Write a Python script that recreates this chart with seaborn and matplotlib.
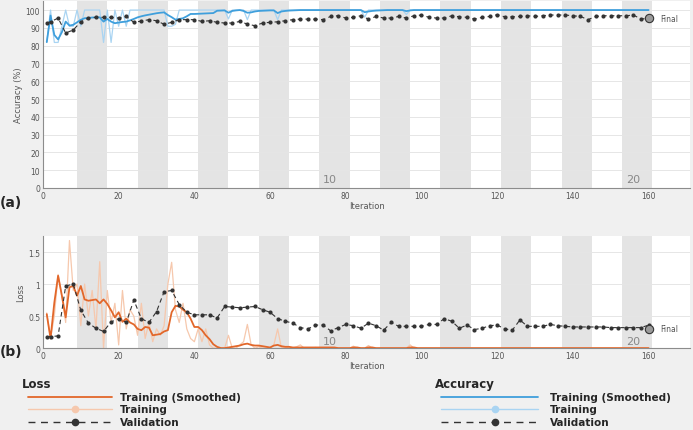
import matplotlib
matplotlib.use("Agg")
import matplotlib.pyplot as plt
from matplotlib.lines import Line2D
import seaborn as sns

# --- data (MATLAB training progress) ---
iterations = list(range(1, 161))

train_acc = [
    81.8, 100, 81.8, 81.8, 90.9, 100, 90.9, 90.9, 100, 90.9,
    100, 100, 100, 100, 100, 81.8, 100, 81.8, 100, 90.9,
    100, 90.9, 100, 100, 100, 100, 100, 100, 100, 100,
    100, 100, 90.9, 90.9, 92.0, 100, 100, 100, 100, 100,
    100, 100, 100, 100, 100, 100, 100, 100, 95.0, 100,
    100, 100, 100, 94.6, 100, 100, 100, 100, 100, 100,
    100, 94.6, 100, 100, 100, 100, 100, 100, 100, 100,
    100, 100, 100, 100, 100, 100, 100, 100, 100, 100,
    100, 100, 100, 100, 96.0, 100, 100, 100, 100, 100,
    100, 100, 100, 100, 100, 97.5, 100, 100, 100, 100,
    100, 100, 100, 100, 100, 100, 100, 100, 100, 100,
    100, 100, 100, 100, 100, 100, 100, 100, 100, 100,
    100, 100, 100, 100, 100, 100, 100, 100, 100, 100,
    100, 100, 100, 100, 100, 100, 100, 100, 100, 100,
    100, 100, 100, 100, 100, 100, 100, 100, 100, 100,
    100, 100, 100, 100, 100, 100, 100, 100, 100, 100,
]

train_acc_smooth = [
    82.0, 96.9, 86.0, 83.5, 87.6, 93.5, 91.3, 91.7, 93.1, 94.5,
    95.4, 95.6, 95.8, 95.9, 95.9, 93.5, 95.0, 93.5, 92.6, 93.0,
    93.3, 93.5, 94.2, 95.0, 95.9, 96.5, 97.0, 97.4, 97.8, 98.2,
    98.5, 98.7, 97.2, 96.0, 94.6, 95.0, 95.4, 96.5, 97.8, 97.8,
    97.9, 98.0, 98.1, 98.2, 98.3, 99.6, 99.7, 99.8, 98.5, 99.5,
    99.8, 100, 99.5, 98.5, 98.7, 99.2, 99.5, 99.6, 99.7, 99.8,
    99.8, 98.3, 99.2, 99.5, 99.7, 99.8, 99.9, 100, 100, 100,
    100, 100, 100, 100, 100, 100, 100, 100, 100, 100,
    100, 100, 100, 100, 98.8, 99.2, 99.5, 99.7, 99.8, 99.9,
    100, 100, 100, 100, 100, 99.4, 99.8, 100, 100, 100,
    100, 100, 100, 100, 100, 100, 100, 100, 100, 100,
    100, 100, 100, 100, 100, 100, 100, 100, 100, 100,
    100, 100, 100, 100, 100, 100, 100, 100, 100, 100,
    100, 100, 100, 100, 100, 100, 100, 100, 100, 100,
    100, 100, 100, 100, 100, 100, 100, 100, 100, 100,
    100, 100, 100, 100, 100, 100, 100, 100, 100, 100,
]

train_loss = [
    0.55, 0.15, 0.50, 1.15, 0.80, 0.40, 1.68, 0.90, 1.00, 0.35,
    1.00, 0.50, 0.90, 0.30, 1.35, 0.00, 0.90, 0.40, 0.70, 0.05,
    0.90, 0.30, 0.60, 0.50, 0.20, 0.70, 0.15, 0.40, 0.10, 0.30,
    0.20, 0.35, 1.00, 1.34, 0.60, 0.40, 0.70, 0.30, 0.15, 0.10,
    0.30, 0.10, 0.30, 0.05, 0.00, 0.00, 0.00, 0.00, 0.20, 0.00,
    0.00, 0.05, 0.10, 0.37, 0.05, 0.00, 0.02, 0.00, 0.00, 0.00,
    0.05, 0.30, 0.00, 0.02, 0.00, 0.00, 0.02, 0.05, 0.00, 0.00,
    0.00, 0.01, 0.00, 0.00, 0.00, 0.01, 0.00, 0.00, 0.00, 0.00,
    0.00, 0.03, 0.00, 0.00, 0.00, 0.04, 0.00, 0.00, 0.00, 0.00,
    0.00, 0.00, 0.00, 0.00, 0.00, 0.00, 0.05, 0.00, 0.00, 0.00,
    0.00, 0.00, 0.00, 0.00, 0.00, 0.00, 0.00, 0.00, 0.00, 0.00,
    0.00, 0.00, 0.00, 0.00, 0.00, 0.00, 0.00, 0.00, 0.00, 0.00,
    0.00, 0.00, 0.00, 0.00, 0.00, 0.00, 0.00, 0.00, 0.00, 0.00,
    0.00, 0.00, 0.00, 0.00, 0.00, 0.00, 0.00, 0.00, 0.00, 0.00,
    0.00, 0.00, 0.00, 0.00, 0.00, 0.00, 0.00, 0.00, 0.00, 0.00,
    0.00, 0.00, 0.00, 0.00, 0.00, 0.00, 0.00, 0.00, 0.00, 0.00,
]

train_loss_smooth = [
    0.53, 0.15, 0.71, 1.13, 0.82, 0.48, 0.95, 0.97, 0.82, 0.97,
    0.76, 0.74, 0.75, 0.76, 0.70, 0.76, 0.69, 0.59, 0.48, 0.56,
    0.41, 0.46, 0.40, 0.37, 0.30, 0.28, 0.33, 0.32, 0.20, 0.21,
    0.22, 0.26, 0.28, 0.56, 0.66, 0.65, 0.60, 0.56, 0.46, 0.33,
    0.33, 0.28, 0.20, 0.14, 0.06, 0.02, 0.00, 0.00, 0.01, 0.02,
    0.03, 0.04, 0.06, 0.07, 0.05, 0.04, 0.04, 0.03, 0.02, 0.01,
    0.04, 0.05, 0.03, 0.02, 0.02, 0.01, 0.01, 0.01, 0.01, 0.01,
    0.01, 0.01, 0.01, 0.01, 0.01, 0.01, 0.01, 0.00, 0.00, 0.00,
    0.00, 0.01, 0.01, 0.00, 0.00, 0.01, 0.01, 0.00, 0.00, 0.00,
    0.00, 0.00, 0.00, 0.00, 0.00, 0.00, 0.01, 0.01, 0.00, 0.00,
    0.00, 0.00, 0.00, 0.00, 0.00, 0.00, 0.00, 0.00, 0.00, 0.00,
    0.00, 0.00, 0.00, 0.00, 0.00, 0.00, 0.00, 0.00, 0.00, 0.00,
    0.00, 0.00, 0.00, 0.00, 0.00, 0.00, 0.00, 0.00, 0.00, 0.00,
    0.00, 0.00, 0.00, 0.00, 0.00, 0.00, 0.00, 0.00, 0.00, 0.00,
    0.00, 0.00, 0.00, 0.00, 0.00, 0.00, 0.00, 0.00, 0.00, 0.00,
    0.00, 0.00, 0.00, 0.00, 0.00, 0.00, 0.00, 0.00, 0.00, 0.00,
]

val_iter = [1] + list(range(2, 161, 2))

val_acc = [
    92.7, 93.4, 95.5, 87.1, 88.8, 93.4, 95.5, 95.9, 95.9, 95.9,
    95.5, 96.4, 93.1, 93.8, 94.6, 94.0, 92.0, 93.1, 94.6, 94.6,
    94.6, 93.6, 94.0, 93.1, 92.7, 92.7, 93.6, 92.1, 91.2, 92.7,
    93.1, 93.4, 94.0, 94.6, 94.9, 94.9, 94.9, 94.6, 96.4, 96.8,
    95.5, 95.9, 96.8, 94.9, 96.4, 95.5, 95.5, 96.4, 95.5, 96.8,
    97.2, 95.9, 95.5, 95.5, 96.8, 96.2, 95.9, 94.9, 95.9, 96.4,
    97.4, 96.2, 96.2, 96.4, 96.8, 96.4, 96.8, 97.2, 97.2, 97.2,
    96.8, 96.4, 94.6, 96.4, 96.8, 96.8, 96.8, 96.8, 97.2, 94.9,
    95.5,
]

val_loss = [
    0.18, 0.18, 0.19, 0.97, 1.00, 0.59, 0.39, 0.31, 0.26, 0.41,
    0.46, 0.40, 0.75, 0.46, 0.40, 0.57, 0.88, 0.90, 0.68, 0.56,
    0.52, 0.52, 0.52, 0.47, 0.65, 0.64, 0.63, 0.64, 0.65, 0.60,
    0.56, 0.46, 0.42, 0.39, 0.32, 0.30, 0.36, 0.36, 0.27, 0.32,
    0.37, 0.35, 0.31, 0.39, 0.35, 0.28, 0.40, 0.34, 0.34, 0.34,
    0.34, 0.37, 0.37, 0.46, 0.42, 0.31, 0.36, 0.29, 0.31, 0.35,
    0.36, 0.30, 0.28, 0.44, 0.34, 0.34, 0.34, 0.37, 0.35, 0.34,
    0.33, 0.33, 0.33, 0.33, 0.33, 0.32, 0.32, 0.32, 0.32, 0.32,
    0.36,
]

final_acc = 95.5
final_loss = 0.30
epoch_labels = ["10", "20"]
epoch_label_iter = [74, 154]
epoch_len = 8

BG = "#f0f0f0"
BAND = "#e4e4e4"
ACC_SMOOTH = "#3f9fdc"
ACC_RAW = "#a9d4f2"
LOSS_SMOOTH = "#e2672a"
LOSS_RAW = "#f6c8ad"
VAL = "#333333"

sns.set_style("white")
plt.rcParams["font.family"] = ["DejaVu Sans"]

fig = plt.figure(figsize=(6.93, 4.31), dpi=100, facecolor=BG)
ax_acc = fig.add_axes([0.062, 0.5615, 0.934, 0.4335])
ax_loss = fig.add_axes([0.062, 0.190, 0.934, 0.260])


def style_axes(ax, ylim, yticks, ylabel):
    ax.set_facecolor("white")
    ax.set_xlim(0, 171)
    ax.set_ylim(*ylim)
    ax.set_xticks(range(0, 161, 20))
    ax.set_yticks(yticks)
    ax.grid(axis="y", color="#e6e6e6", linewidth=0.7)
    ax.set_axisbelow(True)
    for s in ["top", "right"]:
        ax.spines[s].set_visible(False)
    for s in ["left", "bottom"]:
        ax.spines[s].set_color("#8c8c8c")
        ax.spines[s].set_linewidth(0.8)
    ax.tick_params(direction="in", length=3, width=0.6, colors="#8c8c8c",
                   labelsize=5.5, labelcolor="#555555", pad=2)
    ax.set_xlabel("Iteration", fontsize=6, color="#555555", labelpad=1)
    ax.set_ylabel(ylabel, fontsize=6, color="#555555", labelpad=2)
    # alternating epoch shading
    for k in range(1, 20, 2):
        ax.axvspan(k * epoch_len + 1, (k + 1) * epoch_len + 1, color=BAND, lw=0, zorder=0)


style_axes(ax_acc, (0, 105), range(0, 101, 10), "Accuracy (%)")
style_axes(ax_loss, (0, 1.75), [0, 0.5, 1, 1.5], "Loss")
ax_loss.set_yticklabels(["0", "0.5", "1", "1.5"])

# accuracy panel
sns.lineplot(x=iterations, y=train_acc, ax=ax_acc, color=ACC_RAW, lw=0.9, zorder=2)
sns.lineplot(x=iterations, y=train_acc_smooth, ax=ax_acc, color=ACC_SMOOTH, lw=1.3, zorder=3)
sns.lineplot(x=val_iter, y=val_acc, ax=ax_acc, color=VAL, lw=0.8, linestyle=(0, (4, 3)),
             marker="o", markersize=3.0, markeredgewidth=0, zorder=4)
ax_acc.plot([160], [final_acc], marker="o", ms=6, mfc="#9a9a9a", mec="#333333", mew=0.8, zorder=5)
ax_acc.text(163, final_acc, "Final", fontsize=5.5, color="#555555", va="center")

# loss panel
sns.lineplot(x=iterations, y=train_loss, ax=ax_loss, color=LOSS_RAW, lw=0.9, zorder=2)
sns.lineplot(x=iterations, y=train_loss_smooth, ax=ax_loss, color=LOSS_SMOOTH, lw=1.3, zorder=3)
sns.lineplot(x=val_iter, y=val_loss, ax=ax_loss, color=VAL, lw=0.8, linestyle=(0, (4, 3)),
             marker="o", markersize=3.0, markeredgewidth=0, zorder=4)
ax_loss.plot([160], [final_loss], marker="o", ms=6, mfc="#9a9a9a", mec="#333333", mew=0.8, zorder=5)
ax_loss.text(163, final_loss, "Final", fontsize=5.5, color="#555555", va="center")

for lbl, it in zip(epoch_labels, epoch_label_iter):
    ax_acc.text(it, 2, lbl, fontsize=8, color="#888888", va="bottom", ha="left")
    ax_loss.text(it, 0.03, lbl, fontsize=8, color="#888888", va="bottom", ha="left")

fig.text(0.0, 1 - 203 / 431, "(a)", fontsize=10, fontweight="bold", va="center")
fig.text(0.0, 1 - 352 / 431, "(b)", fontsize=10, fontweight="bold", va="center")

# legend strip at the bottom
leg = fig.add_axes([0, 0, 1, 0.12])
leg.set_xlim(0, 693)
leg.set_ylim(51, 0)
leg.axis("off")
leg.patch.set_alpha(0)


def legend_block(x_title, x_line0, x_line1, x_text, title, smooth_c, raw_c):
    leg.text(x_title, 5, title, fontsize=8.5, fontweight="bold", va="center")
    xm = (x_line0 + x_line1) / 2
    rows = [(18.5, smooth_c, "-", None, "Training (Smoothed)"),
            (30.5, raw_c, "-", raw_c, "Training"),
            (43, VAL, (0, (5, 4)), VAL, "Validation")]
    for y, c, ls, mc, label in rows:
        leg.add_line(Line2D([x_line0, x_line1], [y, y], color=c,
                            lw=1.3 if mc is None else 1.0, linestyle=ls))
        if mc is not None:
            leg.plot([xm + 5], [y], marker="o", ms=4.5, color=mc)
        leg.text(x_text, y, label, fontsize=7.5, fontweight="bold", va="center")


legend_block(22, 28, 112, 120, "Loss", LOSS_SMOOTH, LOSS_RAW)
legend_block(435, 441, 538, 550, "Accuracy", ACC_SMOOTH, ACC_RAW)

fig.savefig("out.png", dpi=100, facecolor=BG)
